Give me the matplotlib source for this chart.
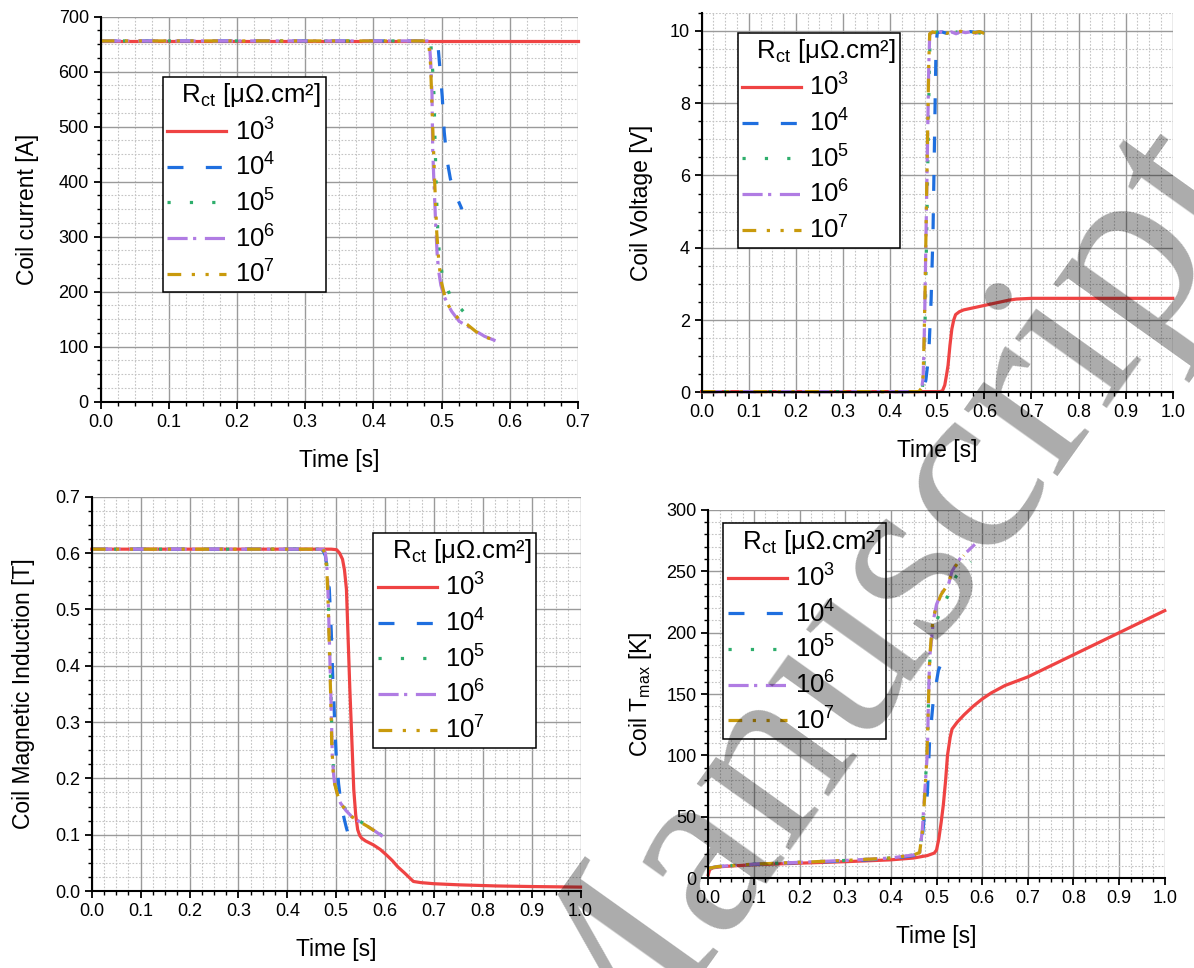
import matplotlib
matplotlib.use("Agg")
import matplotlib.pyplot as plt
from matplotlib.ticker import MultipleLocator, FormatStrFormatter

plt.rcParams['font.family'] = ['Liberation Sans', 'DejaVu Sans']
plt.rcParams['mathtext.fontset'] = 'custom'
plt.rcParams['mathtext.rm'] = 'Liberation Sans'
plt.rcParams['mathtext.it'] = 'Liberation Sans:italic'

# legend entries (R_ct in µΩ.cm²)
labels = ['$10^3$', '$10^4$', '$10^5$', '$10^6$', '$10^7$']
colors = ['#EF4343', '#1F6FDF', '#2EAE6C', '#B07CE3', '#C99A0C']
styles = ['-', (0, (5, 7)), (0, (1, 6)), (0, (6.3, 1.7, 1, 2.7)),
          (0, (4.3, 3.3, 1, 3.3, 1, 3.3))]

# ---- coil current [A]
tI_3 = [0, 0.7]
I_3 = [656, 656]
tI_4 = [0, 0.492, 0.495, 0.498, 0.501, 0.504, 0.508, 0.513, 0.52, 0.53]
I_4 = [656, 656, 645, 600, 555, 490, 440, 405, 378, 350]
tI_5 = [0, 0.484, 0.487, 0.489, 0.4905, 0.4925, 0.4945, 0.497, 0.501, 0.512, 0.522, 0.532, 0.545, 0.555]
I_5 = [656, 656, 602, 555, 470, 380, 310, 265, 231, 195, 178, 164, 154, 146]
tI_6 = [0, 0.482, 0.484, 0.486, 0.487, 0.4885, 0.49, 0.4915, 0.4935, 0.4955, 0.499, 0.504, 0.51,
        0.515, 0.526, 0.543, 0.563, 0.583]
I_6 = [656, 656, 620, 560, 460, 410, 365, 320, 270, 240, 212, 191, 175, 164, 146, 134, 119, 109]
tI_7 = [0, 0.481, 0.484, 0.487, 0.49, 0.493, 0.496, 0.499, 0.506, 0.515, 0.526, 0.538, 0.55, 0.563, 0.583]
I_7 = [656, 656, 611, 501, 398, 307, 255, 222, 185, 164, 150, 140, 128, 118, 110]

# ---- coil voltage [V]
tV_3 = [0, 0.505, 0.511, 0.516, 0.52, 0.523, 0.527, 0.531, 0.535, 0.539, 0.547, 0.556, 0.588,
        0.62, 0.652, 0.668, 0.7, 0.8, 0.9, 1.0]
V_3 = [0.02, 0.02, 0.04, 0.2, 0.5, 0.75, 1.3, 1.75, 2.0, 2.15, 2.23, 2.28, 2.37, 2.46, 2.55,
       2.58, 2.6, 2.6, 2.6, 2.6]
tV_4 = [0, 0.465, 0.472, 0.476, 0.48, 0.483, 0.487, 0.491, 0.495, 0.4975, 0.5, 0.51, 0.52, 0.53,
        0.54, 0.55, 0.56, 0.57, 0.58, 0.59, 0.6]
V_4 = [0.02, 0.02, 0.1, 0.35, 0.8, 1.35, 2.55, 4.4, 7.6, 9.6, 9.95, 9.97, 9.93, 9.98, 9.94, 9.97,
       9.95, 9.98, 9.96, 9.97, 9.95]
tV_5 = [0, 0.462, 0.468, 0.471, 0.473, 0.475, 0.477, 0.479, 0.481, 0.483, 0.485, 0.49, 0.5, 0.51,
        0.52, 0.53, 0.54, 0.55, 0.56, 0.57, 0.58, 0.59, 0.6]
V_5 = [0.02, 0.02, 0.1, 0.35, 1.2, 2.5, 4.0, 5.5, 7.2, 8.8, 9.9, 9.95, 9.97, 9.92, 9.98, 9.94,
       9.97, 9.93, 9.98, 9.95, 9.97, 9.94, 9.96]
tV_6 = [0, 0.461, 0.467, 0.47, 0.472, 0.474, 0.476, 0.478, 0.48, 0.482, 0.484, 0.49, 0.5, 0.51,
        0.52, 0.53, 0.54, 0.55, 0.56, 0.57, 0.58, 0.59, 0.6]
V_6 = [0.02, 0.02, 0.1, 0.4, 1.3, 2.6, 4.2, 5.8, 7.4, 9.0, 9.9, 9.96, 9.93, 9.98, 9.94, 9.97,
       9.92, 9.98, 9.95, 9.97, 9.93, 9.96, 9.95]
tV_7 = [0, 0.461, 0.467, 0.47, 0.472, 0.474, 0.476, 0.478, 0.48, 0.482, 0.484, 0.49, 0.5, 0.51,
        0.52, 0.53, 0.54, 0.55, 0.56, 0.57, 0.58, 0.59, 0.6]
V_7 = [0.02, 0.02, 0.12, 0.45, 1.4, 2.7, 4.3, 5.9, 7.5, 9.1, 9.92, 9.97, 9.94, 9.98, 9.93, 9.97,
       9.95, 9.99, 9.94, 9.97, 9.95, 9.98, 9.93]

# ---- coil magnetic induction [T]
tB_3 = [0, 0.49, 0.501, 0.507, 0.513, 0.517, 0.521, 0.524, 0.528, 0.532, 0.536, 0.54, 0.544,
        0.548, 0.552, 0.56, 0.576, 0.59, 0.603, 0.615, 0.626, 0.64, 0.658, 0.673, 0.7, 0.752,
        0.83, 0.9, 1.0]
B_3 = [0.607, 0.607, 0.606, 0.600, 0.589, 0.57, 0.536, 0.46, 0.358, 0.27, 0.18, 0.135, 0.109,
       0.099, 0.094, 0.089, 0.082, 0.074, 0.064, 0.054, 0.043, 0.032, 0.017, 0.015, 0.013,
       0.011, 0.009, 0.008, 0.007]
tB_4 = [0, 0.47, 0.474, 0.478, 0.482, 0.486, 0.49, 0.493, 0.497, 0.5, 0.505, 0.509, 0.513,
        0.517, 0.521, 0.525]
B_4 = [0.607, 0.607, 0.603, 0.595, 0.57, 0.536, 0.46, 0.38, 0.3, 0.24, 0.19, 0.162, 0.142,
       0.126, 0.112, 0.1]
tB_5 = [0, 0.474, 0.478, 0.482, 0.485, 0.487, 0.49, 0.492, 0.495, 0.497, 0.503, 0.509, 0.52,
        0.532, 0.548, 0.564, 0.58, 0.595]
B_5 = [0.607, 0.607, 0.6, 0.57, 0.49, 0.42, 0.33, 0.25, 0.21, 0.193, 0.172, 0.158, 0.144,
       0.133, 0.124, 0.116, 0.107, 0.098]
tB_6 = [0, 0.474, 0.478, 0.482, 0.485, 0.487, 0.49, 0.492, 0.495, 0.497, 0.503, 0.509, 0.52,
        0.532, 0.548, 0.564, 0.58, 0.595]
B_6 = [0.607, 0.607, 0.6, 0.566, 0.48, 0.417, 0.32, 0.24, 0.205, 0.19, 0.17, 0.156, 0.143,
       0.132, 0.123, 0.115, 0.106, 0.097]
tB_7 = [0, 0.473, 0.477, 0.481, 0.484, 0.486, 0.489, 0.491, 0.494, 0.497, 0.503, 0.509, 0.52,
        0.532, 0.548, 0.564, 0.58, 0.595]
B_7 = [0.607, 0.607, 0.6, 0.57, 0.5, 0.43, 0.34, 0.26, 0.21, 0.19, 0.17, 0.156, 0.143, 0.132,
       0.123, 0.115, 0.106, 0.097]

# ---- coil T_max [K]
tT_3 = [0, 0.003, 0.01, 0.03, 0.06, 0.1, 0.2, 0.3, 0.4, 0.45, 0.48, 0.495, 0.5, 0.505, 0.51,
        0.515, 0.52, 0.524, 0.53, 0.534, 0.545, 0.56, 0.58, 0.6, 0.62, 0.65, 0.7, 0.8, 0.9, 1.0]
T_3 = [3, 7, 8.5, 9.5, 10.2, 11, 12.3, 13.5, 15, 16.5, 18.5, 20.5, 23, 32, 45, 60, 80, 100, 115,
       121.5, 127, 133, 140, 146, 151, 157, 164, 182, 200, 218]
tT_4 = [0, 0.02, 0.1, 0.2, 0.3, 0.4, 0.45, 0.46, 0.468, 0.474, 0.48, 0.485, 0.493, 0.504, 0.515]
T_4 = [8, 9.5, 11.3, 12.8, 14, 16, 18.5, 21, 30, 53, 69, 113, 145, 169, 180]
tT_5 = [0, 0.02, 0.1, 0.2, 0.3, 0.4, 0.45, 0.463, 0.469, 0.474, 0.48, 0.483, 0.486, 0.49, 0.495,
        0.505, 0.515, 0.526, 0.535, 0.543, 0.56, 0.575]
T_5 = [8, 9.5, 11.5, 13, 14.5, 16.5, 19, 21, 40, 69, 105, 150, 185, 197, 205, 214, 222, 231, 240,
       246, 253, 258]
tT_6 = [0, 0.02, 0.1, 0.2, 0.3, 0.4, 0.45, 0.4635, 0.469, 0.474, 0.48, 0.482, 0.485, 0.489, 0.493,
        0.5, 0.51, 0.526, 0.534, 0.545, 0.555, 0.57, 0.584]
T_6 = [8, 9.5, 11.5, 13, 14.5, 16.5, 19, 21, 40, 69, 102, 140, 180, 194, 210, 223, 232, 239, 250,
       257, 262, 267, 272]
tT_7 = [0, 0.02, 0.1, 0.2, 0.3, 0.4, 0.45, 0.463, 0.469, 0.474, 0.479, 0.482, 0.485, 0.489, 0.493,
        0.5, 0.51, 0.526, 0.534, 0.545, 0.56]
T_7 = [8, 9.5, 11.5, 13, 14.5, 16.5, 19, 21, 38, 66, 100, 138, 178, 200, 212, 222, 231, 240, 250,
       256, 263]

panels = [
    dict(pos=[0.0843, 0.585, 0.3997, 0.3977], xmax=0.7, ylim=(0, 700), ymaj=100, ymin=25,
         ylabel='Coil current [A]', leg=(0.13, 0.844), ypad=14,
         data=[(tI_3, I_3), (tI_4, I_4), (tI_5, I_5), (tI_6, I_6), (tI_7, I_7)]),
    dict(pos=[0.5877, 0.5947, 0.3945, 0.3921], xmax=1.0, ylim=(0, 10.5), ymaj=2, ymin=0.5,
         ylabel='Coil Voltage [V]', leg=(0.076, 0.948), ypad=12,
         data=[(tV_3, V_3), (tV_4, V_4), (tV_5, V_5), (tV_6, V_6), (tV_7, V_7)]),
    dict(pos=[0.0769, 0.0795, 0.4093, 0.4073], xmax=1.0, ylim=(0, 0.7), ymaj=0.1, ymin=0.025,
         ylabel='Coil Magnetic Induction [T]', leg=(0.576, 0.909), ypad=14,
         data=[(tB_3, B_3), (tB_4, B_4), (tB_5, B_5), (tB_6, B_6), (tB_7, B_7)]),
    dict(pos=[0.5932, 0.0927, 0.3823, 0.3805], xmax=1.0, ylim=(0, 300), ymaj=50, ymin=10,
         ylabel='Coil T$_{\\mathrm{max}}$ [K]', leg=(0.032, 0.964), ypad=9,
         data=[(tT_3, T_3), (tT_4, T_4), (tT_5, T_5), (tT_6, T_6), (tT_7, T_7)]),
]

fig = plt.figure(figsize=(11.94, 9.68), dpi=100)

for p in panels:
    ax = fig.add_axes(p['pos'])
    for (t, y), c, ls, lab in zip(p['data'], colors, styles, labels):
        ax.plot(t, y, color=c, linestyle=ls, lw=2.3, label=lab, clip_on=False)
    ax.set_xlim(0, p['xmax'])
    ax.set_ylim(*p['ylim'])
    ax.xaxis.set_major_locator(MultipleLocator(0.1))
    ax.xaxis.set_minor_locator(MultipleLocator(0.025))
    ax.yaxis.set_major_locator(MultipleLocator(p['ymaj']))
    ax.yaxis.set_minor_locator(MultipleLocator(p['ymin']))
    ax.xaxis.set_major_formatter(FormatStrFormatter('%.1f'))
    if p['ymaj'] < 1:
        ax.yaxis.set_major_formatter(FormatStrFormatter('%.1f'))
    ax.grid(which='major', color='#9a9a9a', lw=1.0)
    ax.grid(which='minor', color='#c4c4c4', lw=0.8, linestyle=(0, (1.5, 1.5)))
    ax.set_axisbelow(True)
    for s in ['top', 'right']:
        ax.spines[s].set_visible(False)
    for s in ['left', 'bottom']:
        ax.spines[s].set_linewidth(1.5)
    ax.tick_params(which='major', direction='out', length=5, width=1.3, labelsize=13)
    ax.tick_params(which='minor', direction='out', length=3, width=1.0)
    ax.set_xlabel('Time [s]', fontsize=16.5, labelpad=13)
    ax.set_ylabel(p['ylabel'], fontsize=16.5, labelpad=p['ypad'])
    leg = ax.legend(loc='upper left', bbox_to_anchor=p['leg'], borderaxespad=0,
                    title='  R$_{\\mathrm{ct}}$ [μΩ.cm²]', fontsize=18.5, title_fontsize=18.5,
                    alignment='left', fancybox=False, edgecolor='black', framealpha=1,
                    handlelength=2.3, handletextpad=0.32, labelspacing=0.33, borderpad=0.18)
    leg.get_frame().set_linewidth(1.1)

# watermark
fig.text(0.495, -0.158, 'Manuscript', fontsize=181, family='Liberation Serif',
         rotation=54.5, ha='left', va='baseline', rotation_mode='anchor',
         color='black', alpha=0.33, zorder=10)

fig.savefig('out.png', dpi=100)
